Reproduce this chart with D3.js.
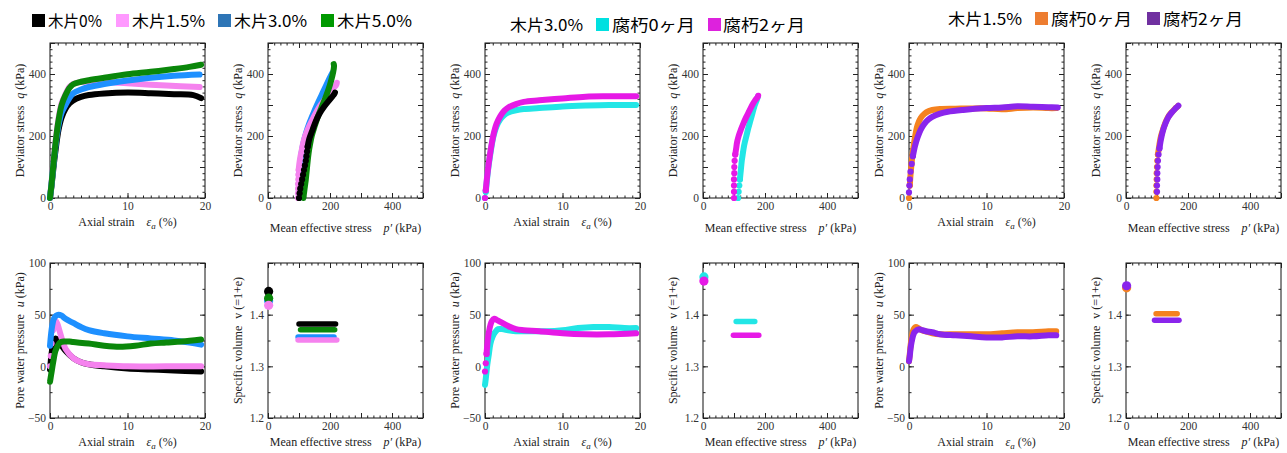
<!DOCTYPE html>
<html>
<head>
<meta charset="utf-8">
<script src="https://cdn.jsdelivr.net/npm/d3@7"></script>
<style>
  body { margin: 0; background: #fff; }
  svg text { font-family: "Liberation Serif", "Times New Roman", serif; }
  .legend text { font-family: "Noto Sans CJK JP", sans-serif; }
</style>
</head>
<body>
<svg id="chart" width="1287" height="453"></svg>
<script>
// ---------------- data ----------------
// tick labels
const strainTicks = [0, 10, 20];
const stressTicks = [0, 200, 400];
const poreTicks = [-50, 0, 50, 100];
const volumeTicks = [1.2, 1.3, 1.4];

// group 1 : wood chip content
const chipNames = ["木片0%", "木片1.5%", "木片3.0%", "木片5.0%"];
const chipLine = ["#000000", "#f582ee", "#1e90ff", "#0a870a"];
const chipKey = ["#000000", "#ff99ff", "#2e75b6", "#009900"];

// [axial strain %, q kPa]
const chipStrainQ = [
  [[0,0],[0.2,40],[0.5,110],[0.8,170],[1.1,220],[1.5,260],[2,288],[2.5,305],[3,315],[4,326],[5,332],[7,337],[10,340],[13,338],[16,335],[18.5,332],[19.5,322]],
  [[0,0],[0.2,50],[0.5,130],[0.8,200],[1.1,255],[1.5,305],[2,335],[2.5,358],[3,368],[4,374],[5,376],[7,375],[9,372],[12,367],[15,363],[19.3,358]],
  [[0,0],[0.2,45],[0.5,120],[0.8,185],[1.1,235],[1.5,275],[2,300],[2.5,322],[3,338],[4,350],[5,358],[7,368],[10,379],[13,388],[16,394],[19.3,398]],
  [[0,0],[0.2,45],[0.5,125],[0.8,195],[1.1,250],[1.5,300],[2,332],[2.5,355],[3,367],[4,375],[5,380],[7,388],[10,399],[13,407],[16,416],[18,423],[19.5,430]]
];
// [p' kPa, q kPa]
const chipPQ = [
  [[100,0],[102,15],[104,30],[107,45],[110,60],[113,75],[116,90],[119,105],[122,120],[124,135],[126,150],[128,165],[133,190],[142,215],[153,245],[166,272],[182,296],[198,316],[208,328],[214,336],[216,340]],
  [[97,0],[97,15],[97,30],[97,45],[98,60],[98,75],[99,90],[101,110],[104,130],[108,150],[113,175],[120,200],[130,225],[142,250],[155,275],[170,300],[185,320],[200,340],[212,355],[220,365],[222,372]],
  [[100,0],[100,30],[101,60],[102,90],[105,120],[109,150],[115,180],[123,210],[133,240],[145,270],[158,300],[172,330],[186,360],[198,385],[207,403]],
  [[114,0],[116,15],[118,30],[120,45],[122,60],[124,80],[126,100],[128,120],[131,145],[135,170],[141,200],[150,230],[160,260],[172,290],[184,320],[195,350],[204,380],[210,405],[213,425],[212,432]]
];
// [axial strain %, u kPa]
const chipStrainU = [
  [[0,-3],[0.1,5],[0.2,12],[0.35,20],[0.5,25],[0.7,27],[1,25],[1.5,20],[2,15],[3,8],[4,4],[5,2],[7,0],[10,-2],[13,-3],[16,-4],[19.5,-5]],
  [[0,0],[0.1,10],[0.2,22],[0.35,35],[0.5,42],[0.7,44],[0.9,42],[1.2,35],[1.6,25],[2,17],[3,8],[4,4],[5,2],[7,1],[10,0],[15,0],[19.5,0]],
  [[0,20],[0.15,32],[0.3,40],[0.5,46],[0.8,49],[1.1,50],[1.5,49],[2,46],[3,42],[4,38],[5,35],[7,32],[10,29],[13,27],[16,25],[18,23],[19.5,21]],
  [[0,-15],[0.15,-8],[0.3,-1],[0.5,8],[0.7,15],[1,20],[1.3,23],[1.8,24],[2.5,24],[3,23.5],[5,22],[7,20],[9,19],[11,20],[13,22],[15,23],[17,24],[19.5,26]]
];
// initial state [p', v] and shearing range [[p'start, v], [p'end, v]]
const chipV0 = [[2,1.445],[2,1.418],[2,1.427],[2,1.432]];
const chipVLine = [
  [[100,1.382],[218,1.382]],
  [[97,1.351],[222,1.351]],
  [[97,1.357],[213,1.357]],
  [[105,1.371],[215,1.371]]
];

// group 2 : 木片3.0%, decay period
const decayNames = ["腐朽0ヶ月", "腐朽2ヶ月"];
const decayLine = ["#22e6e6", "#e619e6"];
const decayKey = ["#00e0e0", "#dd22dd"];
const decayStrainQ = [
  [[0,0],[0.1,20],[0.3,70],[0.5,110],[0.8,160],[1.1,200],[1.5,232],[2,255],[2.5,268],[3,276],[4,283],[5,287],[7,290],[10,295],[13,298],[16,300],[19.5,300]],
  [[0,0],[0.1,25],[0.3,75],[0.5,115],[0.8,165],[1.1,205],[1.5,240],[2,265],[2.5,282],[3,292],[4,303],[5,310],[7,315],[10,321],[13,327],[16,328],[19.5,328]]
];
const decayPQ = [
  [[113,0],[115,20],[117,40],[119,60],[121,80],[123,100],[125,120],[128,140],[131,160],[135,180],[140,200],[146,225],[153,250],[160,275],[167,300],[173,315],[177,327]],
  [[100,0],[100,20],[100,40],[100,60],[101,80],[101,100],[102,120],[104,140],[107,160],[110,180],[115,200],[122,220],[130,240],[139,260],[149,280],[159,300],[168,315],[176,325],[178,330]]
];
const decayStrainU = [
  [[0,-18],[0.1,-12],[0.2,-5],[0.3,2],[0.5,12],[0.7,22],[1,29],[1.3,33],[1.7,36],[2.2,36],[3,35],[4,34],[6,34],[8,34],[10,35],[12,37],[14,38],[16,38],[18,37],[19.5,37]],
  [[0,-5],[0.1,3],[0.2,12],[0.35,25],[0.5,33],[0.7,40],[0.9,44],[1.2,46],[1.5,45],[2,43],[3,39],[4,36],[5,35],[7,34],[10,32],[13,31],[16,31],[19.5,32]]
];
const decayV0 = [[3,1.473],[3,1.465]];
const decayVLine = [
  [[107,1.387],[167,1.387]],
  [[98,1.360],[180,1.360]]
];

// group 3 : 木片1.5%, decay period
const rotNames = ["腐朽0ヶ月", "腐朽2ヶ月"];
const rotLine = ["#f5821f", "#8a25ec"];
const rotKey = ["#ed7d31", "#7030a0"];
const rotStrainQ = [
  [[0,0],[0.1,40],[0.25,90],[0.5,150],[0.8,200],[1.1,235],[1.5,258],[2,272],[2.5,280],[3,284],[4,287],[6,288],[8,289],[10,289],[12,286],[14,290],[16,292],[18,290],[19,290]],
  [[0,18],[0.05,40],[0.1,60],[0.2,85],[0.35,110],[0.5,135],[0.8,170],[1.1,195],[1.5,220],[2,240],[2.5,253],[3,262],[4,272],[5,278],[7,284],[10,290],[12,292],[14,296],[16,294],[18,293],[19.2,292]]
];
const rotPQ = [
  [[98,0],[98,20],[98,40],[99,60],[99,80],[100,100],[101,120],[103,140],[106,160],[109,180],[113,200],[119,220],[126,240],[135,260],[146,275],[157,287],[165,294],[168,297]],
  [[100,20],[100,40],[101,60],[101,80],[102,100],[103,120],[105,140],[108,160],[111,180],[115,200],[120,220],[127,240],[136,260],[147,275],[158,287],[166,295],[169,298]]
];
const rotStrainU = [
  [[0,5],[0.1,12],[0.2,20],[0.35,28],[0.5,34],[0.7,37],[0.9,38],[1.2,37],[1.6,35],[2,34],[3,32],[4,31],[6,31],[8,31],[10,31],[12,32],[14,33],[16,33],[18,34],[19,34]],
  [[0,5],[0.1,10],[0.2,17],[0.35,24],[0.5,29],[0.7,33],[1,35],[1.3,36],[1.7,35],[2.2,34],[3,33],[4,31],[6,30],[8,29],[10,28],[12,28],[14,29],[16,29],[18,30],[19,30]]
];
const rotV0 = [[2,1.452],[2,1.456]];
const rotVLine = [
  [[97,1.402],[165,1.402]],
  [[92,1.389],[171,1.389]]
];

// ---------------- layout ----------------
const svg = d3.select("#chart");
const PW = 155, PH = 155;
const colX = [50, 268, 485, 703, 909, 1126];
const rowY = [43, 263];

const axisSpec = {
  strain: { domain: [0, 20], labels: strainTicks, major: d3.range(0, 21, 10), minor: d3.range(0, 21, 1), fmt: d3.format("d") },
  q: { domain: [0, 500], labels: stressTicks, major: d3.range(0, 501, 100), minor: d3.range(0, 501, 20), fmt: d3.format("d") },
  p: { domain: [0, 500], labels: stressTicks, major: d3.range(0, 501, 100), minor: d3.range(0, 501, 20), fmt: d3.format("d") },
  u: { domain: [-50, 100], labels: poreTicks, major: d3.range(-50, 101, 50), minor: d3.range(-50, 101, 25), fmt: d3.format("d") },
  v: { domain: [1.2, 1.5], labels: volumeTicks, major: d3.range(12, 16).map(i => i / 10), minor: d3.range(24, 31).map(i => i / 20), fmt: d3.format(".1f") }
};

const panels = [
  { col: 0, row: 0, xt: "strain", yt: "q", data: chipStrainQ, colors: chipLine, order: [0, 1, 2, 3], dots: [0, 0, 0, 0] },
  { col: 1, row: 0, xt: "p", yt: "q", data: chipPQ, colors: chipLine, order: [2, 1, 3, 0], dots: [12, 7, 0, 0] },
  { col: 0, row: 1, xt: "strain", yt: "u", data: chipStrainU, colors: chipLine, order: [0, 1, 2, 3], dots: [0, 4, 0, 0] },
  { col: 1, row: 1, xt: "p", yt: "v", v0: chipV0, vLine: chipVLine, colors: chipLine, order: [0, 2, 3, 1] },
  { col: 2, row: 0, xt: "strain", yt: "q", data: decayStrainQ, colors: decayLine, order: [0, 1], dots: [2, 2] },
  { col: 3, row: 0, xt: "p", yt: "q", data: decayPQ, colors: decayLine, order: [0, 1], dots: [4, 8] },
  { col: 2, row: 1, xt: "strain", yt: "u", data: decayStrainU, colors: decayLine, order: [0, 1], dots: [0, 3] },
  { col: 3, row: 1, xt: "p", yt: "v", v0: decayV0, vLine: decayVLine, colors: decayLine, order: [0, 1] },
  { col: 4, row: 0, xt: "strain", yt: "q", data: rotStrainQ, colors: rotLine, order: [0, 1], dots: [2, 6] },
  { col: 5, row: 0, xt: "p", yt: "q", data: rotPQ, colors: rotLine, order: [0, 1], dots: [8, 8] },
  { col: 4, row: 1, xt: "strain", yt: "u", data: rotStrainU, colors: rotLine, order: [0, 1], dots: [0, 0] },
  { col: 5, row: 1, xt: "p", yt: "v", v0: rotV0, vLine: rotVLine, colors: rotLine, order: [0, 1] }
];

function addTicks(g, scale, side, spec) {
  const maker = { bottom: d3.axisBottom, top: d3.axisTop, left: d3.axisLeft, right: d3.axisRight }[side];
  const shift = { bottom: [0, PH], top: [0, 0], left: [0, 0], right: [PW, 0] }[side];
  const labelled = side === "bottom" || side === "left";
  // minor ticks
  g.append("g")
    .attr("transform", `translate(${shift})`)
    .call(maker(scale).tickValues(spec.minor).tickSizeInner(-2.5).tickSizeOuter(0).tickFormat(""))
    .call(a => a.select(".domain").remove())
    .call(a => a.selectAll("line").attr("stroke", "#222"));
  // major ticks + labels
  g.append("g")
    .attr("transform", `translate(${shift})`)
    .call(maker(scale).tickValues(spec.major).tickSizeInner(-5).tickSizeOuter(0).tickPadding(labelled ? 4 : 0)
      .tickFormat(d => labelled && spec.labels.some(l => Math.abs(l - d) < 1e-9) ? spec.fmt(d) : ""))
    .call(a => a.select(".domain").remove())
    .call(a => a.selectAll("line").attr("stroke", "#222"))
    .call(a => a.selectAll("text").attr("font-size", 11.5).attr("fill", "#333")
      .attr("font-family", "Liberation Serif, Times New Roman, serif"));
}

function xTitle(g, type, off) {
  const t = g.append("text").attr("x", PW / 2).attr("y", PH + off)
    .attr("text-anchor", "middle").attr("font-size", 12).attr("fill", "#222");
  if (type === "strain") {
    t.append("tspan").text("Axial strain");
    t.append("tspan").attr("dx", 12).attr("font-style", "italic").text("ε");
    t.append("tspan").attr("dy", 3).attr("font-size", 9).attr("font-style", "italic").text("a");
    t.append("tspan").attr("dy", -3).text(" (%)");
  } else {
    t.append("tspan").text("Mean effective stress");
    t.append("tspan").attr("dx", 12).attr("font-style", "italic").text("p′");
    t.append("tspan").text(" (kPa)");
  }
}

function yTitle(g, type) {
  const t = g.append("text")
    .attr("transform", `translate(-26,${PH / 2}) rotate(-90)`)
    .attr("text-anchor", "middle").attr("font-size", 12).attr("fill", "#222");
  const parts = { q: ["Deviator stress", "q", " (kPa)", true],
                  u: ["Pore water pressure", "u", " (kPa)", true],
                  v: ["Specific volume", "v", " (=1+e)", false] }[type];
  t.append("tspan").text(parts[0]);
  t.append("tspan").attr("dx", 7).attr("font-style", parts[3] ? "italic" : "normal").text(parts[1]);
  t.append("tspan").text(parts[2]);
}

function drawPanel(p) {
  const g = svg.append("g").attr("transform", `translate(${colX[p.col]},${rowY[p.row]})`);
  const xs = axisSpec[p.xt], ys = axisSpec[p.yt];
  const x = d3.scaleLinear().domain(xs.domain).range([0, PW]);
  const y = d3.scaleLinear().domain(ys.domain).range([PH, 0]);

  g.append("rect").attr("width", PW).attr("height", PH)
    .attr("fill", "none").attr("stroke", "#111").attr("stroke-width", 1);
  addTicks(g, x, "bottom", xs);
  addTicks(g, x, "top", xs);
  addTicks(g, y, "left", ys);
  addTicks(g, y, "right", ys);

  xTitle(g, p.xt, p.row === 0 && p.xt === "p" ? 34 : 28);
  yTitle(g, p.yt);

  const line = d3.line().x(d => x(d[0])).y(d => y(d[1])).curve(d3.curveCatmullRom.alpha(0.5));

  if (p.yt === "v") {
    p.order.forEach(i => {
      g.append("path").datum(p.vLine[i]).attr("d", line)
        .attr("fill", "none").attr("stroke", p.colors[i]).attr("stroke-width", 5.5)
        .attr("stroke-linecap", "round");
    });
    p.order.forEach(i => {
      g.append("circle").attr("cx", x(p.v0[i][0])).attr("cy", y(p.v0[i][1]))
        .attr("r", 4.6).attr("fill", p.colors[i]);
    });
    return;
  }

  p.order.forEach(i => {
    const pts = p.data[i];
    const n = p.dots[i];
    g.append("path").datum(pts.slice(Math.max(0, n - 1))).attr("d", line)
      .attr("fill", "none").attr("stroke", p.colors[i]).attr("stroke-width", 6)
      .attr("stroke-linecap", "round").attr("stroke-linejoin", "round");
    g.selectAll(null).data(pts.slice(0, n)).enter().append("circle")
      .attr("cx", d => x(d[0])).attr("cy", d => y(d[1])).attr("r", 3.1)
      .attr("fill", p.colors[i]);
  });
}

panels.forEach(drawPanel);

// ---------------- legends ----------------
const legend = svg.append("g").attr("class", "legend");

function legendItem(sx, sy, color, tx, ty, label, w) {
  if (color) legend.append("rect").attr("x", sx).attr("y", sy).attr("width", 13).attr("height", 13).attr("fill", color);
  legend.append("text").attr("x", tx).attr("y", ty).attr("font-size", 16).attr("fill", "#000")
    .attr("textLength", w).attr("lengthAdjust", "spacingAndGlyphs").text(label);
}

const chipLegendX = [32, 116, 218, 321];
const chipLegendW = [54, 73, 73, 75];
chipNames.forEach((n, i) => legendItem(chipLegendX[i], 14, chipKey[i], chipLegendX[i] + 16, 27, n, chipLegendW[i]));

legendItem(0, 0, null, 510, 31, "木片3.0%", 73);
legendItem(596, 18, decayKey[0], 612, 31, decayNames[0], 83);
legendItem(708, 18, decayKey[1], 723, 31, decayNames[1], 82);

legendItem(0, 0, null, 948, 25, "木片1.5%", 74);
legendItem(1035, 12, rotKey[0], 1051, 25, rotNames[0], 81);
legendItem(1147, 12, rotKey[1], 1163, 25, rotNames[1], 80);
</script>
</body>
</html>
